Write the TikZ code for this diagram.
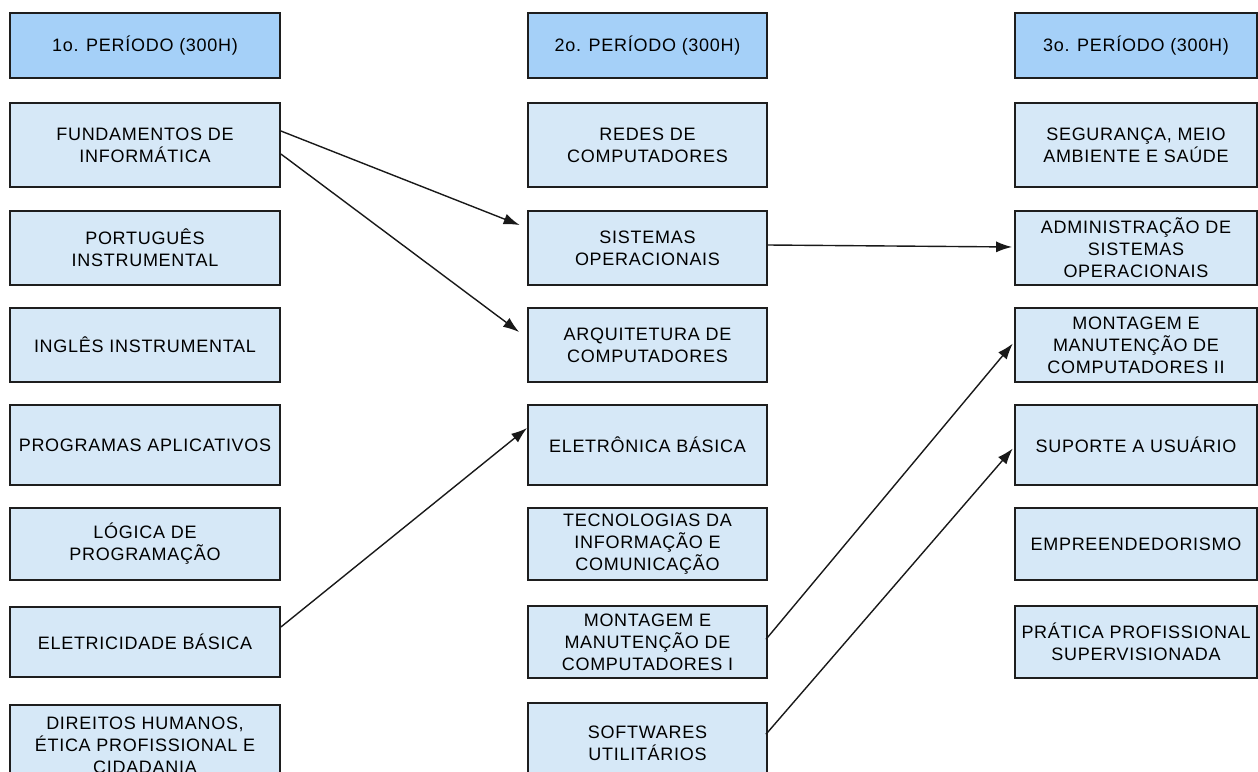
\documentclass[tikz,border=0pt]{standalone}
\usepackage{fontspec}
\setmainfont{Liberation Sans}[LetterSpace=4]
\usepackage{tikz}
\usetikzlibrary{arrows.meta}
\definecolor{hdrblue}{HTML}{A5D0F8}
\definecolor{boxblue}{HTML}{D6E8F7}
\definecolor{edge}{HTML}{1E1E1E}
\tikzset{>={Latex[length=8pt,width=5.5pt]}}
\tikzset{
    disc/.style={draw=edge, line width=.9pt, fill=boxblue, align=center, inner sep=0pt,
        font=\fontsize{9}{11}\selectfont},
    hdr/.style={disc, fill=hdrblue, minimum height=32.5pt},
    col1/.style={minimum width=135pt},
    col2/.style={minimum width=119.5pt},
    col3/.style={minimum width=121pt},
    link/.style={->, line width=.7pt, draw=black!90}
}

\begin{document}
\begin{tikzpicture}[x=.5pt, y=-.5pt]
    \useasboundingbox (0, 0) rectangle (1258, 771);
    \clip (0, 0) rectangle (1258, 771);
    % headers
    \node[hdr, col1] (per1) at (145, 45.5) {1o. PERÍODO (300H)};
    \node[hdr, col2] (per2) at (647.5, 45.5) {2o. PERÍODO (300H)};
    \node[hdr, col3] (per3) at (1136, 45.5) {3o. PERÍODO (300H)};
    % 1o. periodo
    \node[disc, col1, minimum height=42pt] (fundamentos) at (145, 145) {FUNDAMENTOS DE\\INFORMÁTICA};
    \node[disc, col1, minimum height=37pt] (portugues) at (145, 248) {PORTUGUÊS\\INSTRUMENTAL};
    \node[disc, col1, minimum height=37pt] (ingles) at (145, 345) {INGLÊS INSTRUMENTAL};
    \node[disc, col1, minimum height=40pt] (programas) at (145, 445) {PROGRAMAS APLICATIVOS};
    \node[disc, col1, minimum height=36pt] (logica) at (145, 544) {LÓGICA DE\\PROGRAMAÇÃO};
    \node[disc, col1, minimum height=35pt] (eletricidade) at (145, 642) {ELETRICIDADE BÁSICA};
    \node[disc, col1, minimum height=40pt] (direitos) at (145, 745) {DIREITOS HUMANOS,\\ÉTICA PROFISSIONAL E\\CIDADANIA};
    % 2o. periodo
    \node[disc, col2, minimum height=42pt] (redes) at (647.5, 145) {REDES DE\\COMPUTADORES};
    \node[disc, col2, minimum height=37pt] (sistemas) at (647.5, 248) {SISTEMAS\\OPERACIONAIS};
    \node[disc, col2, minimum height=37pt] (arquitetura) at (647.5, 345) {ARQUITETURA DE\\COMPUTADORES};
    \node[disc, col2, minimum height=40pt] (eletronica) at (647.5, 445) {ELETRÔNICA BÁSICA};
    \node[disc, col2, minimum height=36pt] (tecnologias) at (647.5, 544) {TECNOLOGIAS DA\\INFORMAÇÃO E\\COMUNICAÇÃO};
    \node[disc, col2, minimum height=36pt] (montagemI) at (647.5, 642) {MONTAGEM E\\MANUTENÇÃO DE\\COMPUTADORES I};
    \node[disc, col2, minimum height=40pt] (softwares) at (647.5, 743) {SOFTWARES\\UTILITÁRIOS};
    % 3o. periodo
    \node[disc, col3, minimum height=42pt] (seguranca) at (1136, 145) {SEGURANÇA, MEIO\\AMBIENTE E SAÚDE};
    \node[disc, col3, minimum height=37pt] (admsistemas) at (1136, 248) {ADMINISTRAÇÃO DE\\SISTEMAS\\OPERACIONAIS};
    \node[disc, col3, minimum height=37pt] (montagemII) at (1136, 345) {MONTAGEM E\\MANUTENÇÃO DE\\COMPUTADORES II};
    \node[disc, col3, minimum height=40pt] (suporte) at (1136, 445) {SUPORTE A USUÁRIO};
    \node[disc, col3, minimum height=36pt] (empreend) at (1136, 544) {EMPREENDEDORISMO};
    \node[disc, col3, minimum height=36pt] (pratica) at (1136, 642) {PRÁTICA PROFISSIONAL\\SUPERVISIONADA};
    % pre-requisitos
    \draw[link, shorten >=4pt]([yshift=7pt]fundamentos.east)--([yshift=10pt]sistemas.west);
    \draw[link, shorten >=5pt]([yshift=-4.5pt]fundamentos.east)--([yshift=3.5pt]arquitetura.west);
    \draw[link]([yshift=7.5pt]eletricidade.east)--([yshift=8.5pt]eletronica.west);
    \draw[link, shorten >=1pt]([yshift=1.5pt]sistemas.east)--([yshift=.5pt]admsistemas.west);
    \draw[link, shorten <=-1.5pt, shorten >=1pt]([yshift=2.5pt]montagemI.east)--([yshift=1.5pt]montagemII.west);
    \draw[link, shorten <=-1.5pt, shorten >=1pt]([yshift=5.5pt]softwares.east)--([yshift=-1pt]suporte.west);
\end{tikzpicture}
\end{document}
